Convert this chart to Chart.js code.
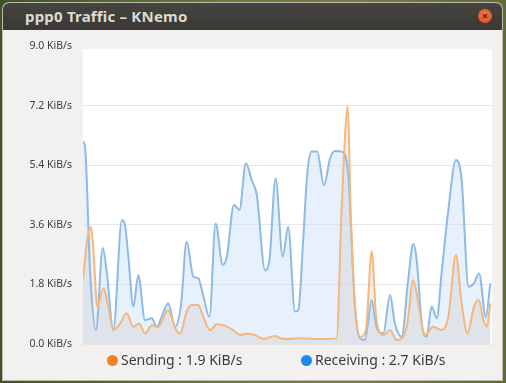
<!DOCTYPE html>
<html>
<head>
<meta charset="utf-8">
<script src="https://cdn.jsdelivr.net/npm/chart.js@4/dist/chart.umd.min.js"></script>
<style>
  html, body { margin: 0; padding: 0; }
  body {
    width: 506px; height: 383px; overflow: hidden; position: relative;
    background: linear-gradient(90deg, #3f5424 0%, #6b7a3c 45%, #7a7a45 70%, #5d6c30 100%);
    font-family: "Noto Sans", "DejaVu Sans", sans-serif;
  }
  #win {
    position: absolute; left: 3px; top: 3px; width: 499px; height: 377px;
    background: #f2f1f0; border-radius: 6px 6px 0 0; overflow: hidden;
    box-shadow: 0 0 0 1px #bdb9b2;
  }
  #titlebar {
    position: absolute; left: 0; top: 0; width: 100%; height: 27px;
    background: linear-gradient(#45443f, #3a3935);
  }
  #title {
    position: absolute; left: 22px; top: 3px; color: #dfdbd2;
    font-weight: bold; font-size: 15px; letter-spacing: 0.2px;
  }
  #close {
    position: absolute; left: 475px; top: 6px; width: 14px; height: 14px; border-radius: 50%;
    background: radial-gradient(circle at 50% 40%, #f47a4a, #d9461b);
    color: #4a2010; font-size: 11px; line-height: 14px; text-align: center; font-weight: bold;
  }
  #chart { position: absolute; left: 0; top: 0; }
  #legend {
    position: absolute; top: 350px; left: 0; width: 506px; height: 20px;
    font-size: 14px; color: #3c3c3c;
  }
  .item { position: absolute; top: 0; white-space: nowrap; }
  .dot { display: inline-block; width: 11px; height: 11px; border-radius: 50%; margin-right: 3px; vertical-align: -1px; }
</style>
</head>
<body>
<div id="win">
  <div id="titlebar"><div id="title">ppp0 Traffic – KNemo</div><div id="close">×</div></div>
</div>
<canvas id="chart" width="506" height="383"></canvas>
<div id="legend"></div>
<script>
// time axis in seconds (window of 120 s)
var recvTimes = [0, 0.6, 2.1, 3.8, 5.8, 7.0, 8.9, 11.4, 12.3, 13.3, 14.8, 16.2, 18.2, 20.2, 21.6, 23.1, 25.0, 27.0, 28.8,
  30.4, 32.4, 33.8, 35.1, 37.1, 38.9, 41.0, 42.2, 44.3, 45.9, 47.8, 49.5, 51.0, 53.4, 54.7, 56.5, 58.6, 60.2,
  62.2, 63.2, 64.6, 65.8, 67.1, 68.7, 70.7, 72.5, 73.9, 75.9, 77.8, 78.8, 79.8, 81.3, 82.7, 84.7, 86.1, 88.1,
  90.1, 91.5, 93.5, 95.4, 96.9, 97.9, 99.4, 100.8, 102.3, 103.8, 105.2, 107.2, 109.4, 111.1, 113.1, 114.7,
  116.2, 118.2, 119.5];
var recvValues = [6.11, 5.96, 2.14, 0.42, 2.9, 2.14, 0.42, 3.74, 3.6, 2.64, 1.13, 2.08, 0.72, 0.78, 0.52, 0.82, 1.23, 0.52, 1.23,
  3.09, 2.03, 1.99, 1.54, 0.82, 3.64, 2.39, 2.64, 4.2, 4.05, 5.46, 4.95, 4.5, 2.23, 2.54, 5.0, 2.64, 3.54,
  0.98, 1.03, 3.14, 5.15, 5.81, 5.81, 4.8, 5.61, 5.83, 5.81, 5.15, 3.14, 1.13, 0.17, 0.12, 1.33, 0.52, 0.32,
  1.48, 0.62, 0.22, 1.93, 3.02, 2.54, 0.62, 0.22, 1.13, 0.78, 2.13, 4.05, 5.56, 4.95, 1.73, 1.83,
  2.13, 0.82, 1.83];

var sendTimes = [0, 1.1, 2.3, 3.0, 4.2, 6.0, 7.4, 8.9, 10.9, 12.8, 14.8, 16.5, 18.2, 20.2, 22.1, 25.0, 27.3, 28.5,
  30.4, 31.9, 33.8, 35.3, 37.3, 39.2, 41.2, 44.1, 46.1, 48.0, 50.5, 52.9, 56.3, 58.8, 63.7, 69.6, 74.4,
  75.9, 77.7, 78.5, 79.8, 81.3, 83.0, 84.7, 86.1, 88.1, 90.1, 92.0, 95.0, 96.9, 98.4, 100.3, 102.7,
  105.2, 107.2, 109.4, 111.1, 112.8, 114.7, 116.1, 117.5, 118.5, 119.5];
var sendValues = [1.93, 3.04, 3.54, 2.94, 1.13, 1.68, 1.13, 0.42, 0.62, 0.93, 0.52, 0.62, 0.32, 0.57, 0.52, 1.03, 0.42, 0.32,
  0.98, 1.18, 1.18, 0.82, 0.42, 0.6, 0.57, 0.42, 0.27, 0.32, 0.27, 0.15, 0.24, 0.15, 0.17, 0.15, 0.17,
  4.15, 7.17, 4.15, 1.13, 0.22, 0.42, 2.79, 0.72, 0.27, 0.42, 0.12, 0.52, 1.93, 1.23, 0.27, 0.52,
  0.42, 0.82, 2.69, 1.23, 0.32, 1.13, 1.33, 0.72, 0.52, 1.23];

var yTicks = [0, 1.8, 3.6, 5.4, 7.2, 9.0];
var legendNames = ['Sending', 'Receiving'];
var legendRates = ['1.9 KiB/s', '2.7 KiB/s'];
var legendColors = ['#f7801f', '#1e88f0'];

function toPoints(times, values) {
  return times.map(function(t, i) { return { x: t, y: values[i] }; });
}

// white plot background, slightly below the top tick like the original
var plotBackground = {
  id: 'plotBackground',
  beforeDraw: function(chart) {
    var a = chart.chartArea, ctx = chart.ctx;
    ctx.save();
    ctx.fillStyle = '#ffffff';
    ctx.fillRect(a.left, a.top + 3, a.right - a.left, a.bottom - a.top - 3);
    ctx.restore();
  }
};

var ctx = document.getElementById('chart').getContext('2d');
var myChart = new Chart(ctx, {
  type: 'line',
  data: {
    datasets: [{
      label: legendNames[0],
      data: toPoints(sendTimes, sendValues),
      borderColor: '#f5b77c',
      backgroundColor: 'rgba(205, 195, 185, 0.28)',
      borderWidth: 2,
      fill: 'origin',
      pointRadius: 0,
      cubicInterpolationMode: 'monotone'
    }, {
      label: legendNames[1],
      data: toPoints(recvTimes, recvValues),
      borderColor: '#8ebae6',
      backgroundColor: 'rgba(205, 228, 250, 0.5)',
      borderWidth: 2,
      fill: 'origin',
      pointRadius: 0,
      cubicInterpolationMode: 'monotone'
    }]
  },
  options: {
    responsive: false,
    animation: false,
    layout: { padding: { left: 0, right: 14, top: 46, bottom: 39 } },
    plugins: {
      legend: { display: false },
      tooltip: { enabled: false },
      filler: { drawTime: 'beforeDatasetsDraw' }
    },
    scales: {
      x: { type: 'linear', min: 0, max: 120, display: false },
      y: {
        min: 0, max: 9,
        afterBuildTicks: function(scale) {
          scale.ticks = yTicks.map(function(v) { return { value: v }; });
        },
        afterFit: function(scale) { scale.width = 83; },
        border: { display: false },
        grid: {
          drawTicks: false,
          color: function(c) { return c.tick && c.tick.value === 9 ? 'rgba(0,0,0,0)' : '#e6e6e6'; }
        },
        ticks: {
          padding: 11,
          color: '#3c3c3c',
          font: { family: 'Noto Sans', size: 10.5 },
          callback: function(v) { return v.toFixed(1) + ' KiB/s'; }
        }
      }
    }
  },
  plugins: [plotBackground]
});

// legend as text below the plot
var legendPos = [107, 301];
var legend = document.getElementById('legend');
legendNames.forEach(function(name, i) {
  var item = document.createElement('div');
  item.className = 'item';
  item.style.left = legendPos[i] + 'px';
  item.innerHTML = '<span class="dot" style="background:' + legendColors[i] + '"></span>' +
    name + ' : ' + legendRates[i];
  legend.appendChild(item);
});
</script>
</body>
</html>
